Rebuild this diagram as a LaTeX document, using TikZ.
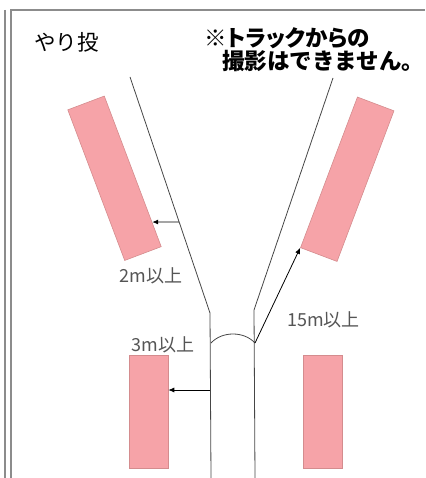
\documentclass[tikz,border=0pt]{standalone}
\usepackage{fontspec}
\newfontfamily\jp{Noto Sans CJK JP}
\usetikzlibrary{positioning,calc,arrows.meta}
\definecolor{framegray}{RGB}{140,140,140}
\definecolor{trackgray}{RGB}{70,70,70}
\definecolor{labelgray}{RGB}{85,85,85}
\definecolor{zonefill}{RGB}{246,163,168}
\definecolor{zoneedge}{RGB}{212,140,142}
\tikzset{
  zone/.style={draw=zoneedge, fill=zonefill, line width=0.6pt, inner sep=0pt, minimum width=39pt, minimum height=161pt},
  track/.style={color=trackgray, line width=0.8pt},
  gap/.style={color=black, line width=0.8pt, -{Latex[length=6pt,width=5pt]}},
  dist/.style={color=labelgray, font=\jp\fontsize{18}{18}\selectfont, inner sep=0pt},
  notice/.style={anchor=west, inner sep=0pt, font=\jp\bfseries\fontsize{22.5}{22.5}\selectfont}
}
\begin{document}
\begin{tikzpicture}[x=1pt,y=-1pt]
\useasboundingbox (0,0) rectangle (425,478);
\draw[color=framegray, line width=2pt](5,10) -- (5,478);
\draw[color=framegray, line width=2pt](11,478) -- (11,10) -- (425,10);

\node[anchor=west, inner sep=0pt, font=\jp\fontsize{21.5}{21.5}\selectfont] (title) at (34,42) {やり投};
\node[notice] (note1) at (204,38) {\addfontfeature{RawFeature=+palt}※トラックからの};
\node[notice] (note2) at (222,61) {撮影はできません。};

% runway
\coordinate (lt) at (130,77);
\coordinate (lb) at (210,313);
\coordinate (lbot) at (211,478);
\coordinate (rt) at (333,78);
\coordinate (rb) at (254,310);
\coordinate (rbot) at (255,478);
\draw[track](lt) -- (lb) -- (lbot);
\draw[track](rt) -- (rb) -- (rbot);
\coordinate (al) at (211,343);
\coordinate (ar) at (255,343);
\draw[track](al) .. controls (222,331) and (244,331) .. (ar);

% areas
\node[zone, rotate=20.7] (zl) at (114.5,178.25) {};
\node[zone, rotate=-20.7] (zr) at (347.25,179.25) {};
\node[zone, minimum height=113pt] (bl) at (148.5,411.5) {};
\node[zone, minimum height=113pt] (br) at (322.5,411.5) {};

\coordinate (t2) at ($(lt)!0.6144!(lb)$);
\coordinate (a3) at (210,390);
\draw[gap](t2) -- ($(zl.north east)!0.836!(zl.south east)$);
\draw[gap](a3) -- (bl.east |- a3);
\draw[gap](ar) -- (zr.south west);

\node[dist] (l2) at (151,276) {2m以上};
\node[dist] (l15) at (323.5,320) {15m以上};
\node[dist] (l3) at (163,345) {3m以上};

\end{tikzpicture}
\end{document}
